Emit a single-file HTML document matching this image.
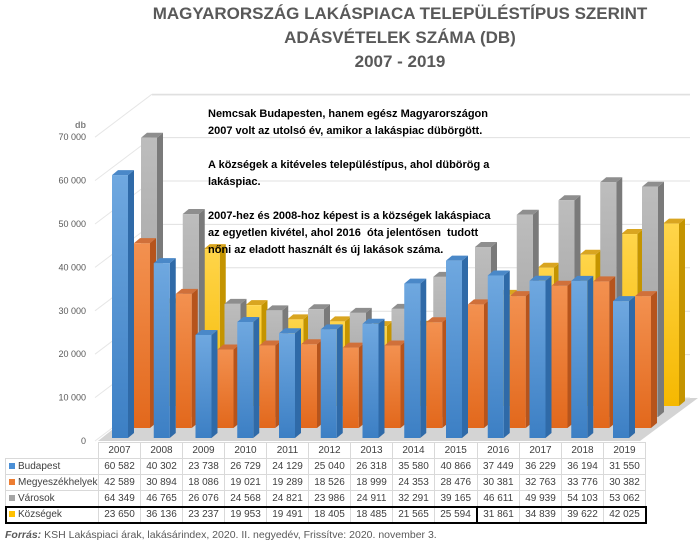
<!DOCTYPE html>
<html><head><meta charset="utf-8">
<style>
body{margin:0;background:#fff;width:700px;height:543px;overflow:hidden;font-family:"Liberation Sans",sans-serif;}
#wrap{position:relative;width:700px;height:543px;}
.title{position:absolute;left:100px;width:600px;text-align:center;font-weight:bold;font-size:17px;color:#595959;line-height:24px;}
.note{position:absolute;left:208px;top:106px;font-size:11px;font-weight:bold;color:#000;line-height:17px;}
table{position:absolute;left:5px;top:442px;border-collapse:collapse;font-size:10px;color:#404040;}
td{border:1px solid #d9d9d9;height:15px;padding:0;text-align:center;width:41px;white-space:nowrap;}
td.lab{width:89px;text-align:left;padding-left:3px;}
.sw{display:inline-block;width:6px;height:6px;margin-right:3px;}
.src{position:absolute;left:5px;top:529px;font-size:10.5px;color:#595959;}
</style></head><body>
<div id="wrap">
<div class="title" style="top:2px">MAGYARORSZÁG LAKÁSPIACA TELEPÜLÉSTÍPUS SZERINT</div>
<div class="title" style="top:26px">ADÁSVÉTELEK SZÁMA (DB)</div>
<div class="title" style="top:50px">2007 - 2019</div>
<svg id="plot" width="700" height="445" style="position:absolute;left:0;top:0"></svg>
<div class="note">Nemcsak Budapesten, hanem egész Magyarországon<br>2007 volt az utolsó év, amikor a lakáspiac dübörgött.<br><br>A községek a kitéveles településtípus, ahol dübörög a<br>lakáspiac.<br><br>2007-hez és 2008-hoz képest is a községek lakáspiaca<br>az egyetlen kivétel, ahol 2016&nbsp; óta jelentősen&nbsp; tudott<br>nőni az eladott használt és új lakások száma.</div>
<table id="tbl"></table>
<div class="src"><b><i>Forrás:</i></b> KSH Lakáspiaci árak, lakásárindex, 2020. II. negyedév, Frissítve: 2020. november 3.</div>
</div>
<script>
const years=[2007,2008,2009,2010,2011,2012,2013,2014,2015,2016,2017,2018,2019];
const seriesNames=["Budapest","Megyeszékhelyek","Városok","Községek"];
const budapest=[60582,40302,23738,26729,24129,25040,26318,35580,40866,37449,36229,36194,31550];
const megyeszekhelyek=[42589,30894,18086,19021,19289,18526,18999,24353,28476,30381,32763,33776,30382];
const varosok=[64349,46765,26076,24568,24821,23986,24911,32291,39165,46611,49939,54103,53062];
const kozsegek=[23650,36136,23237,19953,19491,18405,18485,21565,25594,31861,34839,39622,42025];
const yTicks=[0,10000,20000,30000,40000,50000,60000,70000];
const yTickLabels=["0","10 000","20 000","30 000","40 000","50 000","60 000","70 000"];

const NS="http://www.w3.org/2000/svg";
const svg=document.getElementById('plot');
const K=0.00434;
function xOf(i){return 112+i*41.75;}
function yFront(v){return 441-v*K;}
function yBack(v){return 398-v*K;}
function mk(tag,attrs){const e=document.createElementNS(NS,tag);for(const a in attrs)e.setAttribute(a,attrs[a]);svg.appendChild(e);return e;}
function fmt(n){const s=String(n);return s.length>3?s.slice(0,-3)+' '+s.slice(-3):s;}

// defs gradients
const defs=document.createElementNS(NS,'defs');svg.appendChild(defs);
const cols=[["#6fa8e0","#3c7fc4"],["#f39150","#e2681c"],["#bdbdbd","#9a9a9a"],["#ffd54a","#f5b800"]];
const sides=["#2f6aa8","#b6541c","#7a7a7a","#c49400"];
const tops=["#4a88c8","#d0703a","#8e8e8e","#d9a520"];
cols.forEach((c,i)=>{defs.innerHTML+=`<linearGradient id="g${i}" x1="0" y1="0" x2="0" y2="1"><stop offset="0" stop-color="${c[0]}"/><stop offset="1" stop-color="${c[1]}"/></linearGradient>`;});

// floor
const fl=mk('polygon',{points:"98,441 640,441 698,398 152,398",fill:"#d4d4d4"});


// ceiling line
const cl=mk('line',{x1:152,y1:95,x2:690,y2:95,stroke:"#e3e3e3","stroke-width":1});



// gridlines and ticks
yTicks.forEach((v,i)=>{
  const g=mk('line',{x1:152,y1:yBack(v),x2:690,y2:yBack(v),stroke:"#e0e0e0","stroke-width":1});
  
  
  const d=mk('line',{x1:95,y1:yFront(v),x2:152,y2:yBack(v),stroke:"#e6e6e6","stroke-width":1});
  
  
  const t=mk('text',{x:86,y:yFront(v)+3,"text-anchor":"end","font-size":"9","fill":"#595959","font-family":"Liberation Sans, sans-serif"});
  t.textContent=yTickLabels[i];
  
  
});
const dbl=mk('text',{x:86,y:128,"text-anchor":"end","font-size":"9","font-weight":"bold","fill":"#7f7f7f","font-family":"Liberation Sans, sans-serif"});
dbl.textContent="db";



// bars: back to front
const data=[budapest,megyeszekhelyek,varosok,kozsegek];
const offX=[0,22,29,50], base=[438,428,417,406];
[3,2,1,0].forEach(s=>{
  data[s].forEach((v,i)=>{
    const x=xOf(i)+offX[s], w=16, b=base[s], top=b-v*K, dx=6, dy=5;
    const g=document.createElementNS(NS,'g');svg.appendChild(g);
    
    
    g.innerHTML=`<polygon points="${x+w},${top} ${x+w+dx},${top-dy} ${x+w+dx},${b-dy} ${x+w},${b}" fill="${sides[s]}"/>`+
      `<polygon points="${x},${top} ${x+dx},${top-dy} ${x+w+dx},${top-dy} ${x+w},${top}" fill="${tops[s]}"/>`+
      `<rect x="${x}" y="${top}" width="${w}" height="${b-top}" fill="url(#g${s})"/>`;
  });
});

// table
const tbl=document.getElementById('tbl');
let h='<tr><td class="lab" style="border:none"></td>'+years.map(y=>`<td>${y}</td>`).join('')+'</tr>';
const sw=["#4a8fd6","#ed7d31","#a5a5a5","#ffc000"];
data.forEach((arr,s)=>{
  const last=s===3;
  h+=`<tr${last?' style="outline:2px solid #000;outline-offset:-1px"':''}><td class="lab"><span class="sw" style="background:${sw[s]}"></span>${seriesNames[s]}</td>`+
    arr.map((v,i)=>`<td${last&&i===9?' style="border-left:2px solid #000"':''}>${fmt(v)}</td>`).join('')+'</tr>';
});
tbl.innerHTML=h;
</script>
</body></html>
